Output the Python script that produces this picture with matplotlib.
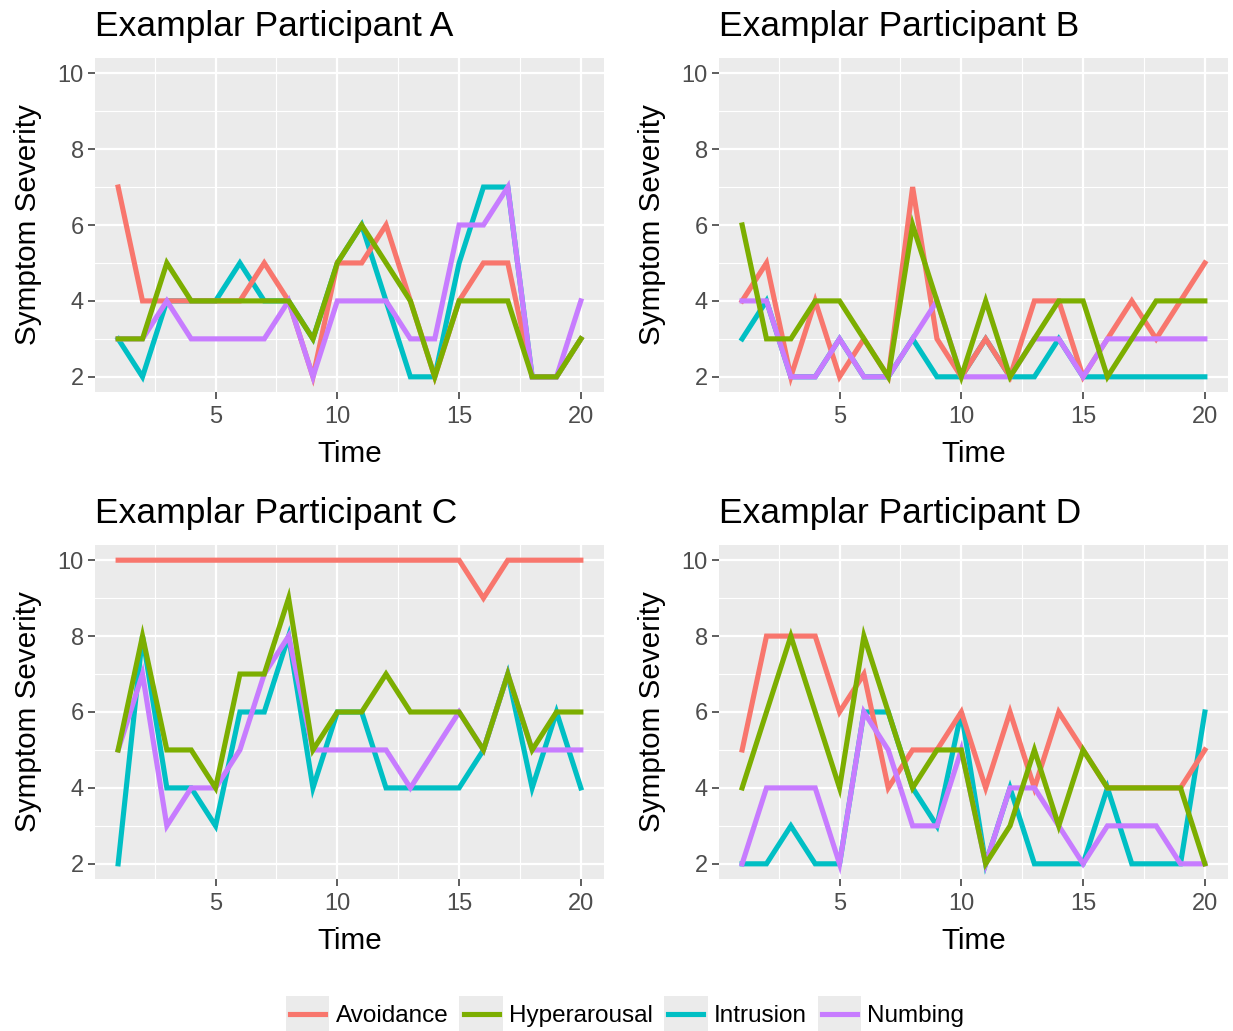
import matplotlib
matplotlib.use("Agg")
import matplotlib.pyplot as plt
from matplotlib.legend_handler import HandlerBase
from matplotlib.patches import Rectangle
from matplotlib.lines import Line2D

plt.rcParams['font.family'] = ['Liberation Sans', 'DejaVu Sans']

time = list(range(1, 21))
symptoms = ["Avoidance", "Hyperarousal", "Intrusion", "Numbing"]
colors = {"Avoidance": "#F8766D", "Hyperarousal": "#7CAE00",
          "Intrusion": "#00BFC4", "Numbing": "#C77CFF"}
titles = ["Examplar Participant A", "Examplar Participant B",
          "Examplar Participant C", "Examplar Participant D"]

# Participant A
a_avoid = [7, 4, 4, 4, 4, 4, 5, 4, 2, 5, 5, 6, 4, 2, 4, 5, 5, 2, 2, 3]
a_hyper = [3, 3, 5, 4, 4, 4, 4, 4, 3, 5, 6, 5, 4, 2, 4, 4, 4, 2, 2, 3]
a_intru = [3, 2, 4, 4, 4, 5, 4, 4, 3, 5, 6, 4, 2, 2, 5, 7, 7, 2, 2, 3]
a_numb = [3, 3, 4, 3, 3, 3, 3, 4, 2, 4, 4, 4, 3, 3, 6, 6, 7, 2, 2, 4]
# Participant B
b_avoid = [4, 5, 2, 4, 2, 3, 2, 7, 3, 2, 3, 2, 4, 4, 2, 3, 4, 3, 4, 5]
b_hyper = [6, 3, 3, 4, 4, 3, 2, 6, 4, 2, 4, 2, 3, 4, 4, 2, 3, 4, 4, 4]
b_intru = [3, 4, 2, 2, 3, 2, 2, 3, 2, 2, 3, 2, 2, 3, 2, 2, 2, 2, 2, 2]
b_numb = [4, 4, 2, 2, 3, 2, 2, 3, 4, 2, 2, 2, 3, 3, 2, 3, 3, 3, 3, 3]
# Participant C
c_avoid = [10, 10, 10, 10, 10, 10, 10, 10, 10, 10, 10, 10, 10, 10, 10, 9, 10, 10, 10, 10]
c_hyper = [5, 8, 5, 5, 4, 7, 7, 9, 5, 6, 6, 7, 6, 6, 6, 5, 7, 5, 6, 6]
c_intru = [2, 8, 4, 4, 3, 6, 6, 8, 4, 6, 6, 4, 4, 4, 4, 5, 7, 4, 6, 4]
c_numb = [5, 7, 3, 4, 4, 5, 7, 8, 5, 5, 5, 5, 4, 5, 6, 5, 7, 5, 5, 5]
# Participant D
d_avoid = [5, 8, 8, 8, 6, 7, 4, 5, 5, 6, 4, 6, 4, 6, 5, 4, 4, 4, 4, 5]
d_hyper = [4, 6, 8, 6, 4, 8, 6, 4, 5, 5, 2, 3, 5, 3, 5, 4, 4, 4, 4, 2]
d_intru = [2, 2, 3, 2, 2, 6, 6, 4, 3, 6, 2, 4, 2, 2, 2, 4, 2, 2, 2, 6]
d_numb = [2, 4, 4, 4, 2, 6, 5, 3, 3, 5, 2, 4, 4, 3, 2, 3, 3, 3, 2, 2]

participants = [
    {"Avoidance": a_avoid, "Hyperarousal": a_hyper, "Intrusion": a_intru, "Numbing": a_numb},
    {"Avoidance": b_avoid, "Hyperarousal": b_hyper, "Intrusion": b_intru, "Numbing": b_numb},
    {"Avoidance": c_avoid, "Hyperarousal": c_hyper, "Intrusion": c_intru, "Numbing": c_numb},
    {"Avoidance": d_avoid, "Hyperarousal": d_hyper, "Intrusion": d_intru, "Numbing": d_numb},
]
draw_order = ["Intrusion", "Avoidance", "Numbing", "Hyperarousal"]

W, H = 1233, 1031
fig = plt.figure(figsize=(W / 100, H / 100), dpi=100)
fig.patch.set_facecolor("white")

# panel pixel boxes (left, top, right, bottom)
boxes = [(95, 58, 604, 392), (719, 58, 1228, 392),
         (95, 545, 604, 879), (719, 545, 1228, 879)]

for i, (l, t, r, b) in enumerate(boxes):
    ax = fig.add_axes([l / W, (H - b) / H, (r - l) / W, (b - t) / H])
    ax.set_facecolor("#EBEBEB")
    for s in ax.spines.values():
        s.set_visible(False)
    ax.set_xlim(1 - 0.95, 20 + 0.95)
    ax.set_ylim(2 - 0.4, 10 + 0.4)
    ax.set_xticks([5, 10, 15, 20])
    ax.set_yticks([2, 4, 6, 8, 10])
    ax.set_xticks([2.5, 7.5, 12.5, 17.5], minor=True)
    ax.set_yticks([3, 5, 7, 9], minor=True)
    ax.grid(which="major", color="white", linewidth=1.6)
    ax.grid(which="minor", color="white", linewidth=0.8)
    ax.set_axisbelow(True)
    ax.tick_params(which="major", length=5, width=1.1, color="#333333",
                   labelsize=17, labelcolor="#4D4D4D", pad=3)
    ax.tick_params(axis="x", which="major", pad=5)
    ax.tick_params(which="minor", length=0)
    for name in draw_order:
        ax.plot(time, participants[i][name], color=colors[name],
                linewidth=3.7, solid_joinstyle="miter", zorder=3)
    ax.set_title(titles[i], loc="left", fontsize=25.5, pad=16, color="black")
    ax.set_xlabel("Time", fontsize=21.3, labelpad=9)
    ax.set_ylabel("Symptom Severity", fontsize=21.3, labelpad=11)


class KeyHandler(HandlerBase):
    def create_artists(self, legend, orig_handle, xdescent, ydescent,
                       width, height, fontsize, trans):
        pad = 0.12 * fontsize
        bg = Rectangle((-xdescent, -ydescent - pad), width, height + 2 * pad,
                       facecolor="#EBEBEB", edgecolor="none", transform=trans)
        y = -ydescent + height / 2
        ln = Line2D([-xdescent + 0.1 * width, -xdescent + 0.9 * width], [y, y],
                    color=orig_handle.get_color(), linewidth=3.7, transform=trans)
        return [bg, ln]


handles = [Line2D([], [], color=colors[n]) for n in symptoms]
fig.legend(handles, symptoms, loc="center",
           bbox_to_anchor=(625 / W, 1 - 1014 / H), ncol=4, frameon=False,
           fontsize=17.5, handlelength=1.8, handleheight=1.55,
           handletextpad=0.25, columnspacing=0.45,
           handler_map={Line2D: KeyHandler()})

fig.savefig("out.png", dpi=100, facecolor="white")
